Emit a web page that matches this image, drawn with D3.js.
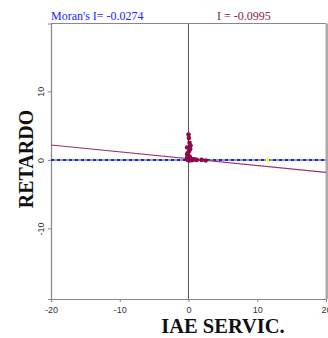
<!DOCTYPE html>
<html><head><meta charset="utf-8">
<script src="https://cdn.jsdelivr.net/npm/d3@7"></script>
<style>body{margin:0;background:#fff;overflow:hidden}svg{display:block}</style>
</head><body>
<script>
const xTicks = [-20, -10, 0, 10, 20];
const yTicks = [-10, 0, 10];
const pointX = [0, 0.05, 0.15, 0.3, -0.2, 0.1, -0.2, 0.05, -0.2, 0.3, 0.7, 1.2, 1.9, 2.5, -0.1, 0.1, 0.4, 0.2, -0.1, 0.5, 0.9, 0.25];
const pointY = [3.7, 3.2, 2.5, 2.1, 1.8, 1.3, 0.8, 0.55, 0.3, 0.2, 0.1, 0.0, 0.0, -0.1, 0.0, -0.1, 0.05, 0.4, 1.0, -0.05, 0.05, 1.6];
const highlightX = [11.5];
const highlightY = [0];
const moranI = -0.0274;
const slopeI = -0.0995;
const intercept = 0.18;
const xLabel = "IAE SERVIC.";
const yLabel = "RETARDO";

const W = 328, H = 338;
const L = 51, T = 23.5, R = 326, B = 299;
const svg = d3.select("body").append("svg").attr("width", W).attr("height", H);
const x = d3.scaleLinear().domain([-20, 20]).range([L, R]);
const y = d3.scaleLinear().domain([-20.3, 19.9]).range([B, T]);

svg.append("defs").append("clipPath").attr("id", "clip")
  .append("rect").attr("x", L).attr("y", T).attr("width", R - L).attr("height", B - T);

// frame
svg.append("line").attr("x1", L).attr("x2", R).attr("y1", T).attr("y2", T).attr("stroke", "#888").attr("stroke-width", 1.2);
svg.append("line").attr("x1", R + 1).attr("x2", R + 1).attr("y1", T).attr("y2", B).attr("stroke", "#aaa").attr("stroke-width", 3);

// axes
const fmt = d => String(d);
const gx = svg.append("g").attr("transform", `translate(0,${B})`)
  .call(d3.axisBottom(x).tickValues(xTicks).tickSize(3).tickFormat(fmt));
const gy = svg.append("g").attr("transform", `translate(${L},0)`)
  .call(d3.axisLeft(y).tickValues(yTicks).tickSize(3).tickFormat(fmt));
[gx, gy].forEach(g => {
  g.select(".domain").attr("stroke", "#888").attr("stroke-width", 1.2);
  g.selectAll(".tick line").attr("stroke", "#888");
  g.selectAll("text").attr("font-family", "Liberation Sans, Arial, sans-serif").attr("font-size", 9).attr("fill", "#333");
});
gx.selectAll("text").attr("dy", "0.9em");
gy.selectAll(".tick text").attr("x", 0).attr("dy", 0)
  .attr("transform", "translate(-7,0) rotate(-90)").attr("text-anchor", "middle");

const plot = svg.append("g").attr("clip-path", "url(#clip)");
// zero lines
plot.append("line").attr("x1", x(0)).attr("x2", x(0)).attr("y1", T).attr("y2", B).attr("stroke", "#555").attr("stroke-width", 1);
plot.append("line").attr("x1", L).attr("x2", R).attr("y1", y(0)).attr("y2", y(0)).attr("stroke", "#8899ee").attr("stroke-width", 2);
plot.append("line").attr("x1", L).attr("x2", R).attr("y1", y(0)).attr("y2", y(0))
  .attr("stroke", "#2222dd").attr("stroke-width", 2).attr("stroke-dasharray", "3,3");
// regression line
plot.append("line").attr("x1", x(-20)).attr("x2", x(20))
  .attr("y1", y(intercept + slopeI * -20)).attr("y2", y(intercept + slopeI * 20))
  .attr("stroke", "#993366").attr("stroke-width", 1.2);
// points
plot.selectAll("circle.pt").data(pointX.map((v, i) => [v, pointY[i]])).enter().append("circle")
  .attr("class", "pt").attr("cx", d => x(d[0])).attr("cy", d => y(d[1])).attr("r", 2.3)
  .attr("fill", "#8b0a4a");
plot.selectAll("circle.hl").data(highlightX.map((v, i) => [v, highlightY[i]])).enter().append("circle")
  .attr("class", "hl").attr("cx", d => x(d[0])).attr("cy", d => y(d[1])).attr("r", 1.8)
  .attr("fill", "#ffff00");

// titles
svg.append("text").attr("x", L).attr("y", 20).attr("font-family", "Liberation Serif, Times New Roman, serif")
  .attr("font-size", 12).attr("fill", "#2424ff").text("Moran's I= " + moranI.toFixed(4));
svg.append("text").attr("x", 217).attr("y", 20).attr("font-family", "Liberation Serif, Times New Roman, serif")
  .attr("font-size", 12).attr("fill", "#8b2252").text("I = " + slopeI.toFixed(4));
// axis labels
svg.append("text").attr("x", 223).attr("y", 333).attr("text-anchor", "middle")
  .attr("font-family", "Liberation Serif, Times New Roman, serif").attr("font-weight", "bold")
  .attr("font-size", 20.5).attr("fill", "#111").text(xLabel);
svg.append("text").attr("transform", "translate(33,159) rotate(-90)").attr("text-anchor", "middle")
  .attr("font-family", "Liberation Serif, Times New Roman, serif").attr("font-weight", "bold")
  .attr("font-size", 20).attr("fill", "#111").text(yLabel);
</script>
</body></html>
